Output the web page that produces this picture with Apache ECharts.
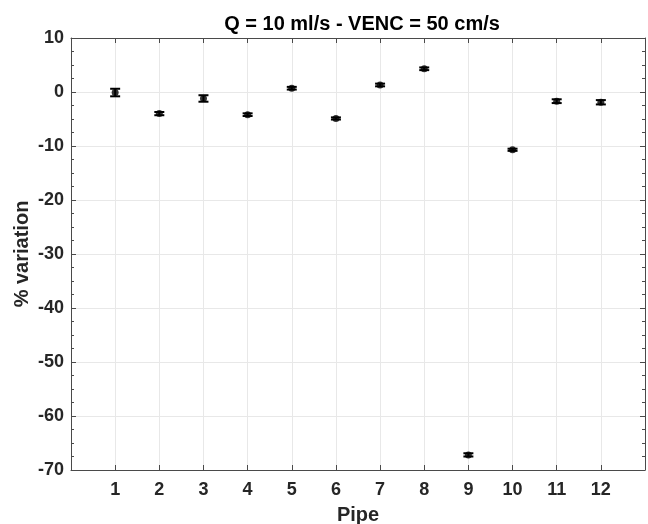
<!DOCTYPE html>
<html>
<head>
<meta charset="utf-8">
<script src="https://cdn.jsdelivr.net/npm/echarts@6/dist/echarts.min.js"></script>
<style>html,body{margin:0;padding:0;background:#fff}#c{width:648px;height:524px}</style>
</head>
<body>
<div id="c"></div>
<script>
const titleText = 'Q = 10 ml/s - VENC = 50 cm/s';
const xLabel = 'Pipe';
const yLabel = '% variation';
const pipes = [1, 2, 3, 4, 5, 6, 7, 8, 9, 10, 11, 12];
const values = [-0.1, -4.0, -1.2, -4.2, 0.7, -4.9, 1.3, 4.3, -67.2, -10.7, -1.7, -1.9];
const errors = [0.7, 0.3, 0.6, 0.25, 0.25, 0.2, 0.25, 0.25, 0.3, 0.2, 0.35, 0.4];
const yTicks = [-70, -60, -50, -40, -30, -20, -10, 0, 10];

const FONT = '"Liberation Sans", Arial, Helvetica, sans-serif';
const AX = '#4a4a4a';
const TXT = '#262626';

const chart = echarts.init(document.getElementById('c'), null, {renderer: 'canvas'});
const pts = pipes.map((p, i) => [p, values[i]]);
const errData = pipes.map((p, i) => [p, values[i] - errors[i], values[i] + errors[i]]);

const axisCommon = {
  axisLine: {show: true, onZero: false, lineStyle: {color: AX, width: 1}},
  axisTick: {show: true, inside: true, length: 5, lineStyle: {color: AX}},
};

chart.setOption({
  animation: false,
  title: {
    text: titleText, left: 357, top: 9, textAlign: 'center',
    textStyle: {fontFamily: FONT, fontWeight: 'bold', fontSize: 20, color: '#000'}
  },
  grid: {left: 71, right: 3, top: 38, bottom: 54, containLabel: false, outerBoundsMode: 'none'},
  xAxis: [{
    type: 'value', min: 0, max: 13, interval: 1, position: 'bottom',
    name: xLabel, nameLocation: 'middle', nameGap: 35,
    nameTextStyle: {fontFamily: FONT, fontWeight: 'bold', fontSize: 20, color: TXT},
    ...axisCommon,
    axisLabel: {
      fontFamily: FONT, fontWeight: 'bold', fontSize: 18, color: TXT, margin: 11,
      formatter: v => (pipes.indexOf(v) >= 0 ? String(v) : '')
    },
    splitLine: {show: true, lineStyle: {color: '#e8e8e8', width: 1}}
  }, {
    type: 'value', min: 0, max: 13, interval: 1, position: 'top',
    ...axisCommon, axisLabel: {show: false}, splitLine: {show: false}
  }],
  yAxis: [{
    type: 'value', min: yTicks[0], max: yTicks[yTicks.length - 1], interval: 10, position: 'left',
    name: yLabel, nameLocation: 'middle', nameGap: 39, nameRotate: 90, nameMoveOverlap: false,
    nameTextStyle: {fontFamily: FONT, fontWeight: 'bold', fontSize: 20, color: TXT},
    ...axisCommon,
    minorTick: {show: true, splitNumber: 4, length: 3, lineStyle: {color: AX}},
    axisLabel: {fontFamily: FONT, fontWeight: 'bold', fontSize: 18, color: TXT, margin: 7},
    splitLine: {show: true, lineStyle: {color: '#e8e8e8', width: 1}}
  }, {
    type: 'value', min: yTicks[0], max: yTicks[yTicks.length - 1], interval: 10, position: 'right',
    ...axisCommon,
    minorTick: {show: true, splitNumber: 4, length: 3, lineStyle: {color: AX}},
    axisLabel: {show: false}, splitLine: {show: false}
  }],
  series: [{
    type: 'custom',
    xAxisIndex: 0, yAxisIndex: 0,
    data: errData,
    renderItem: function (params, api) {
      const x = api.value(0);
      const lo = api.coord([x, api.value(1)]);
      const hi = api.coord([x, api.value(2)]);
      const hw = 5;
      const st = {stroke: '#000', lineWidth: 2};
      return {
        type: 'group',
        children: [
          {type: 'line', shape: {x1: lo[0], y1: lo[1], x2: hi[0], y2: hi[1]}, style: st},
          {type: 'line', shape: {x1: lo[0] - hw, y1: lo[1], x2: lo[0] + hw, y2: lo[1]}, style: st},
          {type: 'line', shape: {x1: hi[0] - hw, y1: hi[1], x2: hi[0] + hw, y2: hi[1]}, style: st}
        ]
      };
    },
    z: 3
  }, {
    type: 'scatter',
    xAxisIndex: 0, yAxisIndex: 0,
    data: pts,
    symbol: 'circle', symbolSize: 7,
    itemStyle: {color: '#000'},
    z: 4
  }]
});
</script>
</body>
</html>
